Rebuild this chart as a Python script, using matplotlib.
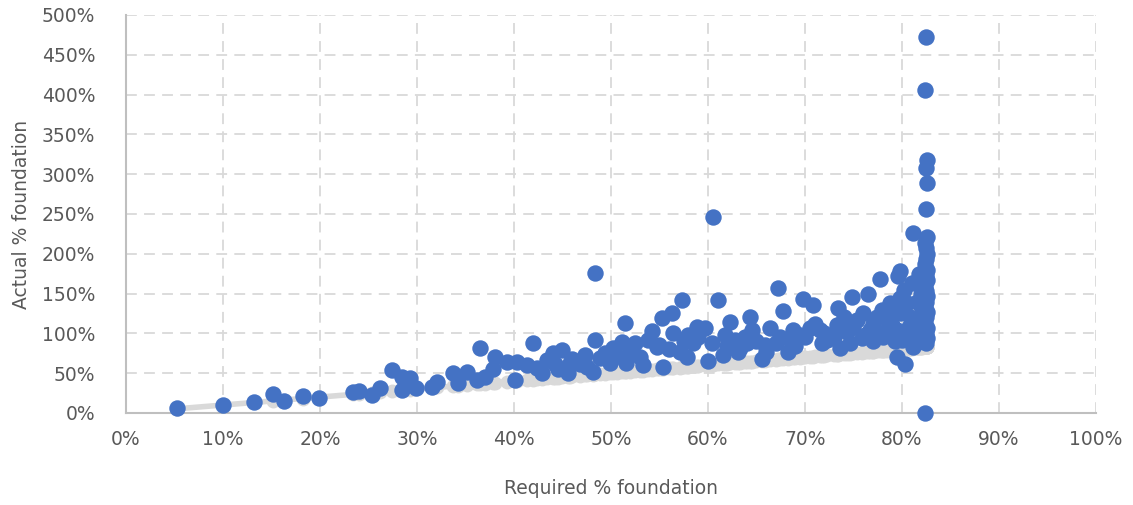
import numpy as np
import matplotlib
matplotlib.use('Agg')
import matplotlib.pyplot as plt
from matplotlib.ticker import PercentFormatter

# required % foundation (x) and actual % foundation (y), both in percent
required = [5.3, 10.0, 13.2, 15.2, 16.3, 18.2, 19.9,
            23.4, 24.0, 25.4, 26.2, 27.4, 28.5, 29.3, 28.5, 29.9, 31.5, 32.1, 33.7, 34.2,
            35.2, 36.2, 36.5, 37.0, 37.8, 38.0, 39.3, 40.1, 40.3, 41.3, 42.0, 42.4, 42.9,
            43.4, 44.0, 44.5, 44.9, 45.8, 45.6, 47.3, 47.5, 48.4, 48.1, 48.9, 49.9, 50.2,
            51.1, 51.4, 51.6, 52.5, 53.0, 53.3, 54.2, 54.7, 55.3, 55.4, 56.3, 56.4, 57.1,
            57.3, 57.9, 57.8, 58.9, 48.4, 60.5,
            58.5, 59.7, 60.0, 61.0, 61.5, 62.3, 62.8, 63.1, 63.3, 64.3, 64.5, 65.6, 65.9,
            66.4, 67.2, 67.4, 67.7, 68.2, 68.8, 69.5, 69.8, 70.5, 70.8, 71.5, 72.3, 73.3,
            73.4, 73.6, 74.3, 74.8, 75.4, 75.9, 76.5, 76.7, 77.4, 77.7, 78.0, 78.8, 79.5,
            79.6, 79.8, 80.3, 79.1, 79.8, 79.5, 81.1, 81.0, 81.1, 82.4,
            82.5, 82.4, 82.6, 82.5, 82.6, 82.5, 82.6, 82.4, 82.5, 82.6, 82.5, 82.4, 82.6,
            82.5, 82.6, 82.4, 82.5, 82.6, 82.5, 82.4, 82.6, 82.5, 82.4, 82.6, 82.5, 82.6,
            82.5,
            44.2, 46.0, 46.8, 49.4, 50.6, 52.0, 53.8, 55.0, 56.0, 57.5, 59.0, 60.4, 61.8,
            63.8, 65.0, 67.0, 68.5, 70.0, 71.0, 72.0, 73.0, 74.0, 75.0, 76.0, 77.0, 77.9,
            78.5, 79.0, 79.8, 80.2, 80.5, 80.8, 81.2, 81.5, 81.6, 81.8, 81.9, 80.0, 78.2,
            76.2, 82.0, 82.1, 81.4, 80.7, 79.3, 62.0, 64.0, 66.0, 69.0, 71.8, 74.6, 77.0]

actual = [6, 10, 14, 24, 15, 21, 19,
          26, 28, 22, 32, 54, 45, 44, 29, 31, 33, 39, 50, 38,
          52, 41, 82, 45, 55, 70, 64, 42, 64, 60, 88, 56, 50,
          67, 75, 55, 79, 63, 50, 73, 58, 92, 52, 69, 63, 82,
          89, 113, 63, 88, 70, 60, 103, 83, 119, 58, 126, 100, 77,
          142, 98, 70, 108, 176, 246,
          88, 107, 65, 142, 73, 114, 92, 77, 82, 121, 104, 68, 85,
          107, 157, 96, 128, 77, 104, 98, 143, 107, 136, 104, 92, 111,
          132, 82, 102, 146, 117, 94, 150, 104, 121, 168, 96, 138, 70,
          172, 179, 62, 132, 125, 104, 83, 163, 226, 0,
          472, 406, 318, 308, 289, 256, 221, 214, 207, 200, 194, 187, 180,
          173, 167, 160, 153, 147, 140, 133, 127, 120, 113, 107, 100, 94,
          88,
          62, 68, 61, 75, 72, 78, 92, 86, 80, 90, 95, 88, 98,
          96, 90, 88, 92, 96, 112, 100, 95, 120, 108, 125, 112, 130,
          118, 110, 145, 155, 138, 120, 100, 140, 115, 175, 95, 92, 102,
          98, 150, 130, 88, 108, 90, 84, 88, 76, 84, 88, 88, 90]

x_ticks = [0, 10, 20, 30, 40, 50, 60, 70, 80, 90, 100]
y_ticks = [0, 50, 100, 150, 200, 250, 300, 350, 400, 450, 500]

text_color = '#595959'
plt.rcParams['font.family'] = ['DejaVu Sans']

fig = plt.figure(figsize=(11.33, 5.05), dpi=100)
ax = fig.add_axes([0.1112, 0.1822, 0.8561, 0.7881])

# grey reference: actual equal to required
req_sorted = np.sort(required)
ax.plot(req_sorted, req_sorted, color='#d9d9d9', lw=4, solid_capstyle='round', zorder=2)
ax.scatter(required, required, s=100, color='#d9d9d9', linewidths=0, zorder=2, clip_on=False)
ax.scatter(required, actual, s=140, color='#4472c4', linewidths=0, zorder=3, clip_on=False)

ax.set_xlim(0, 100)
ax.set_ylim(0, 500)
ax.set_xticks(x_ticks)
ax.set_yticks(y_ticks)
ax.xaxis.set_major_formatter(PercentFormatter(decimals=0))
ax.yaxis.set_major_formatter(PercentFormatter(decimals=0))
ax.tick_params(axis='both', length=0, labelsize=13.5, labelcolor=text_color)
ax.tick_params(axis='x', pad=12)
ax.tick_params(axis='y', pad=22)

ax.grid(True, color='#d9d9d9', linestyle=(0, (6, 4)), linewidth=1.3, zorder=0)
ax.set_axisbelow(True)
for side in ['top', 'right']:
    ax.spines[side].set_visible(False)
for side in ['left', 'bottom']:
    ax.spines[side].set_color('#bfbfbf')
    ax.spines[side].set_linewidth(1.5)

ax.set_xlabel('Required % foundation', fontsize=13.5, color=text_color, labelpad=22)
ax.set_ylabel('Actual % foundation', fontsize=13.5, color=text_color, labelpad=8)

fig.savefig('out.png', dpi=100)
